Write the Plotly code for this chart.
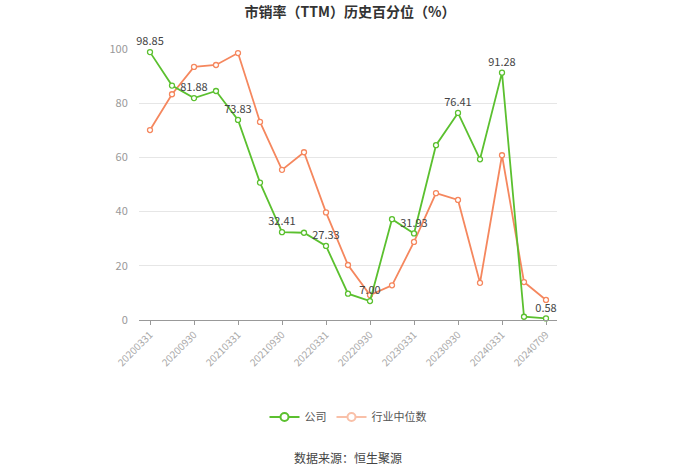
import plotly.graph_objects as go

dates = ["20200331", "20200630", "20200930", "20201231", "20210331", "20210630",
         "20210930", "20211231", "20220331", "20220630", "20220930", "20221231",
         "20230331", "20230630", "20230930", "20231231", "20240331", "20240630",
         "20240709"]
company = [98.85, 86.5, 81.88, 84.5, 73.83, 50.7, 32.41, 32.2, 27.33, 9.7, 7.00,
           37.2, 31.93, 64.5, 76.41, 59.3, 91.28, 1.2, 0.58]
industry = [70.1, 83.3, 93.4, 94.1, 98.5, 73.1, 55.4, 61.9, 39.7, 20.3, 9.2, 12.8,
            28.8, 46.8, 44.3, 13.7, 60.8, 14.0, 7.4]
label_idx = [0, 2, 4, 6, 8, 10, 12, 14, 16, 18]
tick_vals = ["20200331", "20200930", "20210331", "20210930", "20220331",
             "20220930", "20230331", "20230930", "20240331", "20240709"]

GREEN = "#5bc02f"
ORANGE = "#f5875e"

texts = [f"{v:.2f}" if i in label_idx else "" for i, v in enumerate(company)]

fig = go.Figure()
fig.add_trace(go.Scatter(
    x=dates, y=industry, mode="lines+markers", name="行业中位数",
    line=dict(color=ORANGE, width=1.8),
    marker=dict(symbol="circle", size=5, color="white", line=dict(color=ORANGE, width=1.3)),
    showlegend=False, cliponaxis=False,
))
fig.add_trace(go.Scatter(
    x=dates, y=company, mode="lines+markers+text", name="公司",
    line=dict(color=GREEN, width=1.8),
    marker=dict(symbol="circle", size=5, color="white", line=dict(color=GREEN, width=1.3)),
    text=texts, textposition="top center",
    textfont=dict(size=11, color="#444", family="Noto Sans CJK SC"),
    showlegend=False, cliponaxis=False,
))
# legend entries
fig.add_trace(go.Scatter(
    x=[None], y=[None], mode="lines+markers", name="公司",
    line=dict(color=GREEN, width=2),
    marker=dict(symbol="circle", size=8, color="white", line=dict(color=GREEN, width=2)),
))
fig.add_trace(go.Scatter(
    x=[None], y=[None], mode="lines+markers", name="行业中位数",
    line=dict(color="#f9c0a8", width=2),
    marker=dict(symbol="circle", size=8, color="white", line=dict(color="#f9c0a8", width=2)),
))

fig.update_layout(
    width=700, height=474,
    margin=dict(l=139, r=143, t=49, b=154),
    paper_bgcolor="white", plot_bgcolor="white",
    font=dict(family="Noto Sans CJK SC", color="#333"),
    title=dict(text="<b>市销率（TTM）历史百分位（%）</b>", x=0.5, xanchor="center",
               y=0.975, yanchor="middle", font=dict(size=14, color="#333")),
    xaxis=dict(
        type="category", categoryorder="array", categoryarray=dates,
        range=[-0.5, len(dates) - 0.5],
        tickmode="array", tickvals=tick_vals, ticktext=tick_vals,
        tickangle=-45, tickfont=dict(size=10, color="#aaa"),
        showgrid=False, showline=True, linecolor="#999", linewidth=1,
        ticks="outside", ticklen=4, tickcolor="#999", automargin=False,
    ),
    yaxis=dict(
        range=[0, 100], tickvals=[0, 20, 40, 60, 80, 100],
        tickfont=dict(size=11, color="#999"),
        showgrid=True, gridcolor="#e6e6e6", gridwidth=1,
        zeroline=False, showline=False, ticks="outside", ticklen=8, tickcolor="white",
        automargin=False,
    ),
    legend=dict(orientation="h", x=0.5, xanchor="center", y=-0.358, yanchor="middle",
                font=dict(size=11, color="#555"), itemwidth=30),
    annotations=[dict(text="数据来源：恒生聚源", x=0.5, xref="paper", y=-0.509, yref="paper",
                      xanchor="center", yanchor="middle", showarrow=False,
                      font=dict(size=12, color="#444"))],
)
fig.write_html("out.html")
